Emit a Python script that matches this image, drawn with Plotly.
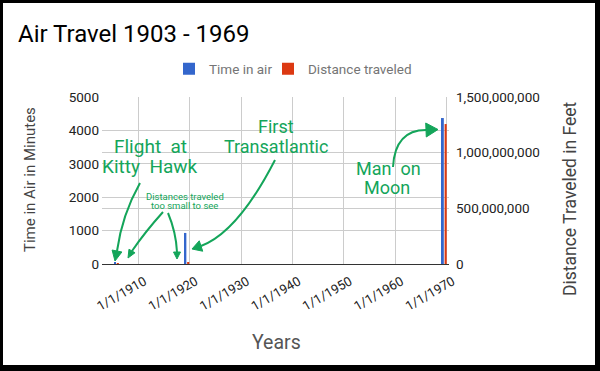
import math
import plotly.graph_objects as go

# ---------------- data ----------------
dates = ["1905-10-05", "1919-06-14", "1969-07-16"]
time_in_air = [39, 930, 4370]                 # minutes
distance_ft = [126720, 9980000, 1257000000]   # feet
series_names = ["Time in air", "Distance traveled"]

x_tick_vals = ["1910-01-01", "1920-01-01", "1930-01-01", "1940-01-01",
               "1950-01-01", "1960-01-01", "1970-01-01"]
x_tick_text = ["1/1/1910", "1/1/1920", "1/1/1930", "1/1/1940",
               "1/1/1950", "1/1/1960", "1/1/1970"]
left_ticks = [0, 1000, 2000, 3000, 4000, 5000]
right_ticks = [0, 500000000, 1000000000, 1500000000]
right_tick_text = ["0", "500,000,000", "1,000,000,000", "1,500,000,000"]

# ---------------- layout geometry (pixels) ----------------
W_FIG, H_FIG = 600, 371
L, R, T, B = 102, 449, 97, 264
PW, PH = R - L, B - T


def px(x):
    return (x - L) / PW


def py(y):
    return (B - y) / PH


DAY = 86400000
BLUE = "#3366CC"
RED = "#DC3912"
GREEN = "#14a55a"
FONT = "Roboto"

fig = go.Figure()
fig.add_trace(go.Bar(
    x=dates, y=time_in_air, name=series_names[0], marker_color=BLUE,
    width=140 * DAY, offset=-175 * DAY, yaxis="y", marker_line_width=0,
    legend="legend", showlegend=True))
fig.add_trace(go.Bar(
    x=dates, y=distance_ft, name=series_names[1], marker_color=RED,
    width=150 * DAY, offset=20 * DAY, yaxis="y2", marker_line_width=0,
    legend="legend2", showlegend=True))

legend_common = dict(orientation="h", xref="container", yref="container",
                     xanchor="left", y=1 - 69 / H_FIG, yanchor="middle",
                     font=dict(family=FONT, size=13.5, color="#757575"),
                     bgcolor="rgba(0,0,0,0)", itemwidth=30, visible=True)

fig.update_layout(
    width=W_FIG, height=H_FIG, showlegend=True,
    margin=dict(l=L, r=W_FIG - R, t=T, b=H_FIG - B, pad=0, autoexpand=False),
    paper_bgcolor="black", plot_bgcolor="white",
    font=dict(family=FONT, size=13, color="#222222"),
    barmode="overlay",
    title=dict(text="Air Travel 1903 - 1969", x=18 / W_FIG, xanchor="left",
               xref="container", yref="container",
               y=1 - 33.5 / H_FIG, yanchor="middle",
               font=dict(family=FONT, size=24, color="#000000")),
    legend=dict(x=169 / W_FIG, **legend_common),
    legend2=dict(x=268 / W_FIG, **legend_common),
    xaxis=dict(type="date", range=["1902-12-10", "1970-06-14"],
               tickvals=x_tick_vals, ticktext=x_tick_text, tickangle=-30,
               showgrid=True, gridcolor="#cccccc", gridwidth=1,
               showline=True, linecolor="#333333", linewidth=1,
               ticks="", tickfont=dict(size=13, color="#222222"),
               ticklabelshift=6, ticklabelstandoff=4,
               zeroline=False, automargin=False),
    yaxis=dict(range=[0, 5000], tickvals=left_ticks, showgrid=True,
               gridcolor="#cccccc", zeroline=False, ticks="",
               tickfont=dict(size=13.5, color="#222222"),
               ticklabelstandoff=2, automargin=False),
    yaxis2=dict(range=[0, 1500000000], tickvals=right_ticks,
                ticktext=right_tick_text, overlaying="y", side="right",
                showgrid=True, gridcolor="#cccccc", zeroline=False, ticks="",
                tickfont=dict(size=13.5, color="#222222"),
                ticklabelstandoff=6, automargin=False),
)

shapes = [dict(type="rect", xref="paper", yref="paper",
               x0=px(3), x1=px(595), y0=py(365), y1=py(3),
               fillcolor="white", line=dict(width=0), layer="below")]


def arrow(start, ctrl, end, tip, hw, lw=2):
    path = "M {},{} Q {},{} {},{}".format(px(start[0]), py(start[1]),
                                          px(ctrl[0]), py(ctrl[1]),
                                          px(end[0]), py(end[1]))
    shapes.append(dict(type="path", xref="paper", yref="paper", path=path,
                       line=dict(color=GREEN, width=lw)))
    dx, dy = tip[0] - end[0], tip[1] - end[1]
    n = math.hypot(dx, dy)
    nx, ny = -dy / n, dx / n
    b1 = (end[0] + nx * hw, end[1] + ny * hw)
    b2 = (end[0] - nx * hw, end[1] - ny * hw)
    tri = "M {},{} L {},{} L {},{} Z".format(px(tip[0]), py(tip[1]),
                                            px(b1[0]), py(b1[1]),
                                            px(b2[0]), py(b2[1]))
    shapes.append(dict(type="path", xref="paper", yref="paper", path=tri,
                       fillcolor=GREEN, line=dict(color=GREEN, width=1)))


arrow((140, 183), (122, 215), (117, 251), (115, 261), 5)
arrow((163, 212), (145, 232), (132, 251), (128, 258), 3.5)
arrow((168, 213), (176, 232), (177, 252), (177, 259), 3.5)
arrow((275, 160), (238, 232), (201, 246), (192, 249), 5.5)
arrow((393, 167), (395, 130), (426, 130), (438, 129.5), 7)

fig.update_layout(shapes=shapes)

annos = []


def label(text, cx, baseline, size, color=GREEN, angle=0):
    annos.append(dict(text=text, xref="paper", yref="paper",
                      x=px(cx), y=py(baseline - 0.35 * size),
                      xanchor="center", yanchor="middle", showarrow=False,
                      textangle=angle,
                      font=dict(family=FONT, size=size, color=color)))


label("Flight  at", 150, 153, 19)
label("Kitty  Hawk", 150, 173, 19)
label("First", 276, 133, 18)
label("Transatlantic", 276, 153, 18)
label("Man  on", 388, 175, 18)
label("Moon", 387, 194, 18)
label("Distances traveled", 184.5, 200, 9.5)
label("too small to see", 184, 209, 9.5)

# axis titles
annos.append(dict(text="Years", xref="paper", yref="paper", x=px(276),
                  y=py(342), xanchor="center", yanchor="middle",
                  showarrow=False,
                  font=dict(family=FONT, size=19.5, color="#555555")))
annos.append(dict(text="Time in Air in Minutes", xref="paper", yref="paper",
                  x=px(30), y=py(180), xanchor="center", yanchor="middle",
                  showarrow=False, textangle=-90,
                  font=dict(family=FONT, size=15, color="#444444")))
annos.append(dict(text="Distance Traveled in Feet", xref="paper",
                  yref="paper", x=px(570), y=py(199), xanchor="center",
                  yanchor="middle", showarrow=False, textangle=-90,
                  font=dict(family=FONT, size=17.5, color="#444444")))

fig.update_layout(annotations=annos)

fig.write_html("out.html", config={"displayModeBar": False},
               post_script="document.body.style.margin='0';"
                           "document.body.style.overflow='hidden';")
